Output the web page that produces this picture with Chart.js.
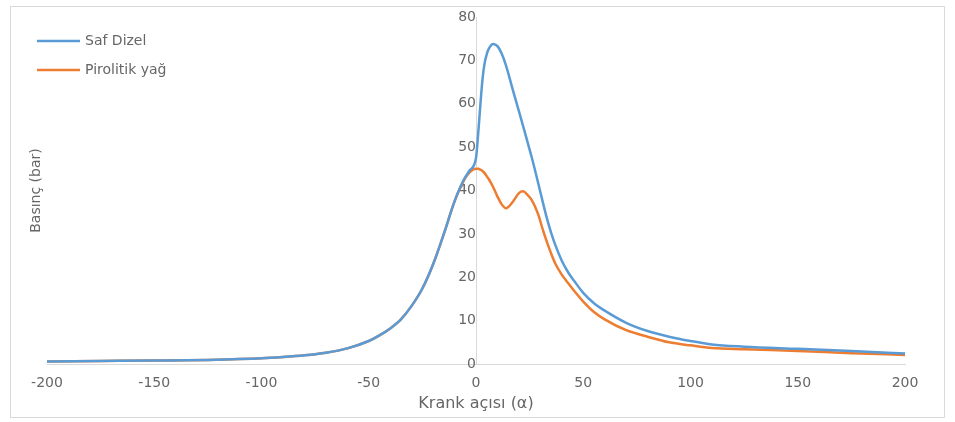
<!DOCTYPE html>
<html>
<head>
    <title>Basınç - Krank açısı</title>
    <script src="https://cdn.jsdelivr.net/npm/chart.js"></script>
    <style>
        body { margin: 0; background: #fff; }
        #box { position: absolute; left: 10px; top: 6px; width: 933px; height: 410px; border: 1px solid #d9d9d9; }
    </style>
</head>
<body>
<div id="box"><canvas id="chart" width="933" height="410"></canvas></div>

<script>
    // krank açısı (derece)
    var angles = [-200, -175, -150, -125, -100, -90, -80, -70, -60, -50, -45, -40, -35, -30, -25, -20, -15, -10, -6, -3,
        0, 1, 2, 3, 4, 5, 6, 8, 10, 12, 14, 17, 20, 22, 24, 26, 29, 31, 33, 35,
        37, 40, 43, 46, 50, 55, 60, 70, 80, 90, 100, 110, 125, 150, 175, 200];

    // Saf Dizel basınç (bar)
    var safDizel = [0.6, 0.7, 0.8, 0.95, 1.3, 1.6, 2.0, 2.6, 3.6, 5.3, 6.6, 8.2, 10.3, 13.4, 17.4, 23.0, 30.0, 37.5, 42.2, 44.6,
        47.5, 53.0, 59.5, 65.5, 69.3, 71.4, 72.7, 73.8, 73.3, 71.5, 68.8, 63.5, 58.3, 54.8, 51.2, 47.6, 41.7, 37.6, 33.7, 30.3,
        27.4, 23.8, 21.1, 19.0, 16.4, 14.0, 12.3, 9.5, 7.6, 6.3, 5.3, 4.5, 4.0, 3.5, 3.0, 2.4];

    // Pirolitik yağ basınç (bar)
    var pirolitik = [0.6, 0.7, 0.8, 0.95, 1.3, 1.6, 2.0, 2.6, 3.6, 5.3, 6.6, 8.2, 10.3, 13.4, 17.4, 23.0, 30.0, 37.5, 42.0, 44.2,
        45.0, 45.0, 44.8, 44.5, 44.0, 43.3, 42.6, 40.8, 38.6, 36.8, 35.9, 37.3, 39.4, 39.8, 39.0, 37.8, 34.5, 31.2, 28.2, 25.5,
        23.1, 20.6, 18.6, 16.7, 14.4, 12.0, 10.3, 7.8, 6.3, 5.0, 4.3, 3.7, 3.4, 3.0, 2.5, 2.1];

    var xTicks = [-200, -150, -100, -50, 0, 50, 100, 150, 200];
    var yTicks = [0, 10, 20, 30, 40, 50, 60, 70, 80];

    function points(ys) {
        return angles.map(function (a, i) { return { x: a, y: ys[i] }; });
    }

    var textColor = '#666666';
    var lineColor = '#d9d9d9';
    var fontFamily = '"DejaVu Sans", sans-serif';
    Chart.defaults.font.family = fontFamily;

    // lejant grafiğin içinde, sol üstte
    var insideLegend = {
        id: 'insideLegend',
        afterDraw: function (chart) {
            var ctx = chart.ctx;
            ctx.save();
            ctx.font = '14px ' + fontFamily;
            ctx.textBaseline = 'middle';
            chart.data.datasets.forEach(function (ds, i) {
                var y = 34 + i * 29;
                ctx.strokeStyle = ds.borderColor;
                ctx.lineWidth = 2.5;
                ctx.beginPath();
                ctx.moveTo(26, y);
                ctx.lineTo(69, y);
                ctx.stroke();
                ctx.fillStyle = textColor;
                ctx.fillText(ds.label, 74, y);
            });
            ctx.restore();
        }
    };

    var ctx = document.getElementById('chart').getContext('2d');
    new Chart(ctx, {
        type: 'line',
        data: {
            datasets: [
                {
                    label: 'Saf Dizel',
                    data: points(safDizel),
                    borderColor: '#5b9bd5',
                    borderWidth: 2.5,
                    pointRadius: 0,
                    cubicInterpolationMode: 'monotone'
                },
                {
                    label: 'Pirolitik yağ',
                    data: points(pirolitik),
                    borderColor: '#ed7d31',
                    borderWidth: 2.5,
                    pointRadius: 0,
                    cubicInterpolationMode: 'monotone'
                }
            ]
        },
        options: {
            responsive: false,
            animation: false,
            layout: { padding: { left: 11, right: 39, top: 10, bottom: 0 } },
            plugins: {
                legend: { display: false },
                tooltip: { enabled: false }
            },
            scales: {
                x: {
                    type: 'linear',
                    position: 'bottom',
                    min: -200,
                    max: 200,
                    afterBuildTicks: function (s) { s.ticks = xTicks.map(function (v) { return { value: v }; }); },
                    afterFit: function (s) { s.height = 53; s.paddingLeft = 0; s.paddingRight = 0; },
                    grid: { display: false },
                    border: { color: lineColor },
                    ticks: { color: textColor, padding: 3, font: { size: 14 } },
                    title: {
                        display: true,
                        text: 'Krank açısı (α)',
                        color: textColor,
                        font: { size: 16 },
                        padding: { top: 4, bottom: 4 }
                    }
                },
                y: {
                    type: 'linear',
                    position: { x: 0 },
                    min: 0,
                    max: 80,
                    afterBuildTicks: function (s) { s.ticks = yTicks.map(function (v) { return { value: v }; }); },
                    afterFit: function (s) { s.paddingTop = 0; s.paddingBottom = 0; },
                    grid: { display: false },
                    border: { color: lineColor },
                    ticks: { color: textColor, padding: 15, font: { size: 14 } }
                },
                yTitle: {
                    type: 'linear',
                    position: 'left',
                    min: 0,
                    max: 80,
                    afterFit: function (s) { s.width = 25; s.paddingTop = 0; s.paddingBottom = 0; },
                    grid: { display: false },
                    border: { display: false },
                    ticks: { display: false },
                    title: {
                        display: true,
                        text: 'Basınç (bar)',
                        color: textColor,
                        font: { size: 14 },
                        padding: { top: 6, bottom: 2 }
                    }
                }
            }
        },
        plugins: [insideLegend]
    });
</script>
</body>
</html>
